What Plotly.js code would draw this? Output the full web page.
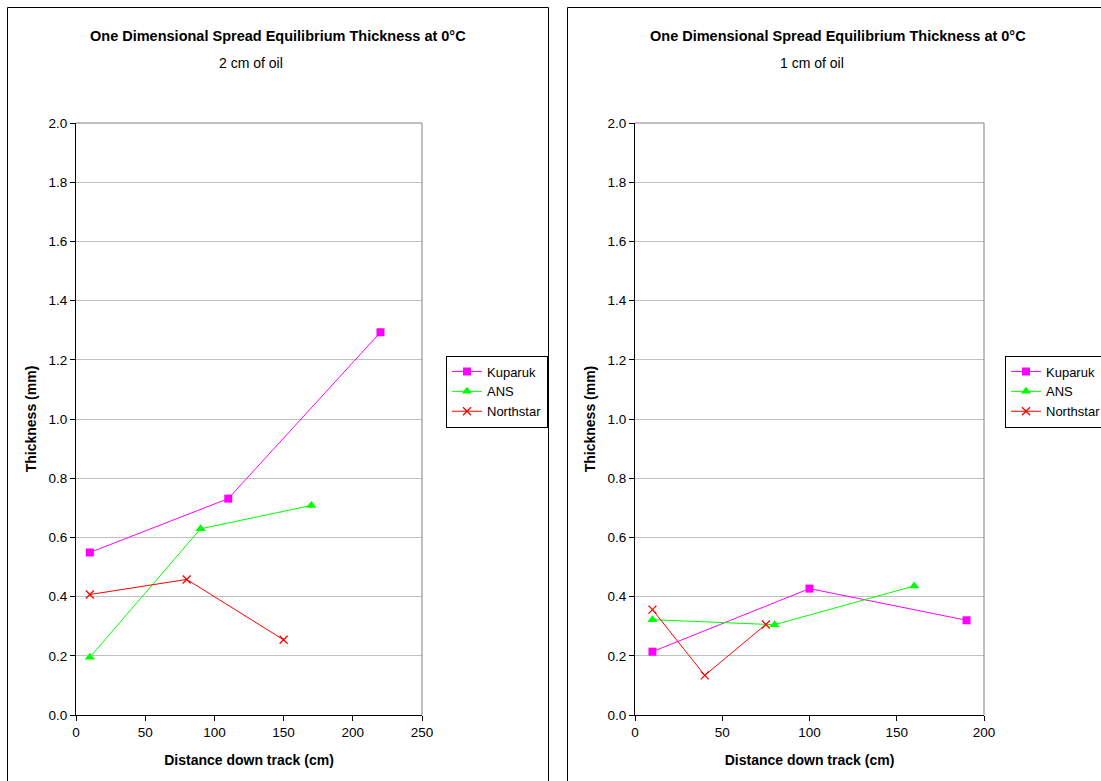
<!DOCTYPE html>
<html>
<head>
<meta charset="utf-8">
<script src="https://cdn.plot.ly/plotly-3.0.1.min.js"></script>
<style>
html,body{margin:0;padding:0;background:#fff;overflow:hidden;}
#chart{width:1101px;height:781px;}
</style>
</head>
<body>
<div id="chart"></div>
<script>
// ---- Data ----
const seriesNames = ["Kuparuk", "ANS", "Northstar"];

// Panel 1: 2 cm of oil
const kuparuk2cmX = [10, 110, 220];
const kuparuk2cmY = [0.549, 0.731, 1.293];
const ans2cmX = [10, 90, 170];
const ans2cmY = [0.195, 0.629, 0.708];
const northstar2cmX = [10, 80, 150];
const northstar2cmY = [0.407, 0.458, 0.254];

// Panel 2: 1 cm of oil
const kuparuk1cmX = [10, 100, 190];
const kuparuk1cmY = [0.214, 0.427, 0.320];
const ans1cmX = [10, 80, 160];
const ans1cmY = [0.322, 0.305, 0.436];
const northstar1cmX = [10, 40, 75];
const northstar1cmY = [0.356, 0.134, 0.306];

const mainTitle = "One Dimensional Spread Equilibrium Thickness at 0°C";
const subtitles = ["2 cm of oil", "1 cm of oil"];
const xTitle = "Distance down track (cm)";
const yTitle = "Thickness (mm)";
const yTickVals = [0, 0.2, 0.4, 0.6, 0.8, 1.0, 1.2, 1.4, 1.6, 1.8, 2.0];
const yTickText = ["0.0","0.2","0.4","0.6","0.8","1.0","1.2","1.4","1.6","1.8","2.0"];
const xTicks1 = [0, 50, 100, 150, 200, 250];
const xTicks2 = [0, 50, 100, 150, 200];

// ---- Styling ----
const W = 1101, H = 781;
const px = v => v / W;
const py = v => 1 - v / H;
const FONT = "Liberation Sans, Arial, sans-serif";
const colors = ["#FF00FF", "#00FF00", "#FF0000"];
const markers = [
  {symbol: "square", size: 8},
  {symbol: "triangle-up", size: 9},
  {symbol: "x-thin-open", size: 8, line: {width: 1.3, color: "#FF0000"}}
];

function mk(x, y, i, xa, ya, leg) {
  const m = Object.assign({color: colors[i]}, markers[i]);
  return {
    x: x, y: y, type: "scatter", mode: "lines+markers",
    name: seriesNames[i], xaxis: xa, yaxis: ya, legend: leg,
    line: {color: colors[i], width: 1},
    marker: m, showlegend: true, cliponaxis: false
  };
}

const traces = [
  mk(kuparuk2cmX, kuparuk2cmY, 0, "x", "y", "legend"),
  mk(ans2cmX, ans2cmY, 1, "x", "y", "legend"),
  mk(northstar2cmX, northstar2cmY, 2, "x", "y", "legend"),
  mk(kuparuk1cmX, kuparuk1cmY, 0, "x2", "y2", "legend2"),
  mk(ans1cmX, ans1cmY, 1, "x2", "y2", "legend2"),
  mk(northstar1cmX, northstar1cmY, 2, "x2", "y2", "legend2")
];

function xaxisDef(domain, range, ticks, anchor) {
  return {
    domain: domain, range: range, anchor: anchor,
    tickvals: ticks, ticktext: ticks.map(String),
    showgrid: false, zeroline: false,
    showline: true, linecolor: "#000", linewidth: 1,
    ticks: "outside", ticklen: 5, tickcolor: "#000", tickwidth: 1,
    tickfont: {family: FONT, size: 13.5, color: "#000"},
    title: {text: xTitle, font: {family: FONT, size: 14, color: "#000", weight: "bold"}, standoff: 15},
    fixedrange: true, automargin: false
  };
}
function yaxisDef(domain, anchor) {
  return {
    domain: domain, range: [0, 2], anchor: anchor,
    tickvals: yTickVals, ticktext: yTickText,
    showgrid: true, gridcolor: "#C0C0C0", gridwidth: 1,
    zeroline: false,
    showline: true, linecolor: "#000", linewidth: 1,
    ticks: "outside", ticklen: 5, tickcolor: "#000", tickwidth: 1,
    tickfont: {family: FONT, size: 13.5, color: "#000"},
    title: {text: yTitle, font: {family: FONT, size: 14, color: "#000", weight: "bold"}, standoff: 8},
    fixedrange: true, automargin: false
  };
}

const yDom = [py(715), py(123)];
const x1Dom = [px(76), px(422)];
const x2Dom = [px(635), px(984)];

const legendBase = {
  yanchor: "middle", xanchor: "left", y: py(391.5),
  bgcolor: "#fff", bordercolor: "#000", borderwidth: 1,
  font: {family: FONT, size: 13, color: "#000"},
  itemwidth: 30, tracegroupgap: 0, traceorder: "normal"
};

const layout = {
  width: W, height: H,
  margin: {l: 0, r: 0, t: 0, b: 0, autoexpand: false},
  paper_bgcolor: "#fff", plot_bgcolor: "#fff",
  showlegend: true,
  xaxis: xaxisDef(x1Dom, [0, 250], xTicks1, "y"),
  yaxis: yaxisDef(yDom, "x"),
  xaxis2: xaxisDef(x2Dom, [0, 200], xTicks2, "y2"),
  yaxis2: yaxisDef(yDom, "x2"),
  legend: Object.assign({}, legendBase, {x: px(446)}),
  legend2: Object.assign({}, legendBase, {x: px(1005)}),
  shapes: [
    // panel frames
    {type: "rect", xref: "paper", yref: "paper", x0: px(7.5), x1: px(548.5), y0: -0.2, y1: py(7.5), line: {color: "#000", width: 1}},
    {type: "rect", xref: "paper", yref: "paper", x0: px(567.5), x1: 1.2, y0: -0.2, y1: py(7.5), line: {color: "#000", width: 1}},
    // plot area gray top/right borders
    {type: "line", xref: "paper", yref: "paper", x0: x1Dom[0], x1: x1Dom[1], y0: yDom[1], y1: yDom[1], line: {color: "#808080", width: 1}},
    {type: "line", xref: "paper", yref: "paper", x0: x1Dom[1], x1: x1Dom[1], y0: yDom[0], y1: yDom[1], line: {color: "#808080", width: 1}},
    {type: "line", xref: "paper", yref: "paper", x0: x2Dom[0], x1: x2Dom[1], y0: yDom[1], y1: yDom[1], line: {color: "#808080", width: 1}},
    {type: "line", xref: "paper", yref: "paper", x0: x2Dom[1], x1: x2Dom[1], y0: yDom[0], y1: yDom[1], line: {color: "#808080", width: 1}}
  ],
  annotations: [
    {xref: "paper", yref: "paper", x: px(278), y: py(36), text: "<b>" + mainTitle + "</b>", showarrow: false, xanchor: "center", yanchor: "middle", font: {family: FONT, size: 14.5, color: "#000"}},
    {xref: "paper", yref: "paper", x: px(251), y: py(63), text: subtitles[0], showarrow: false, xanchor: "center", yanchor: "middle", font: {family: FONT, size: 14, color: "#000"}},
    {xref: "paper", yref: "paper", x: px(838), y: py(36), text: "<b>" + mainTitle + "</b>", showarrow: false, xanchor: "center", yanchor: "middle", font: {family: FONT, size: 14.5, color: "#000"}},
    {xref: "paper", yref: "paper", x: px(812), y: py(63), text: subtitles[1], showarrow: false, xanchor: "center", yanchor: "middle", font: {family: FONT, size: 14, color: "#000"}}
  ]
};

Plotly.newPlot("chart", traces, layout, {staticPlot: true, displayModeBar: false});
</script>
</body>
</html>
